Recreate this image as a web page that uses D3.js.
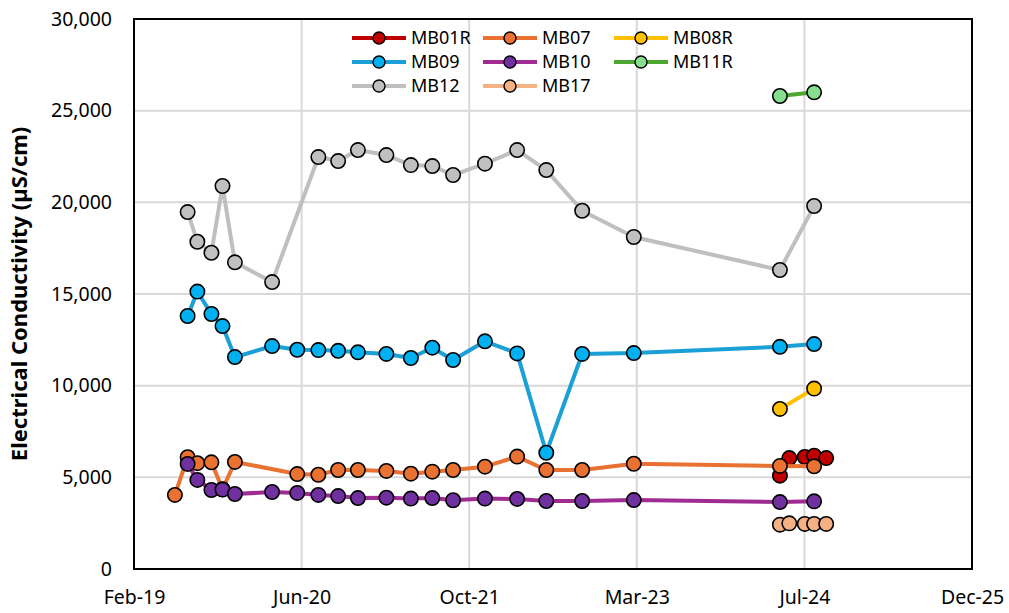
<!DOCTYPE html>
<html>
<head>
<meta charset="utf-8">
<script src="https://cdn.jsdelivr.net/npm/d3@7"></script>
<style>
  html, body { margin: 0; padding: 0; background: #fff; }
  svg { display: block; font-family: "Noto Sans", "Liberation Sans", sans-serif; }
</style>
</head>
<body>
<svg id="chart" width="1009" height="613"></svg>
<script>
// Electrical conductivity readings (µS/cm) per monitoring bore
const seriesNames = ["MB01R", "MB07", "MB08R", "MB09", "MB10", "MB11R", "MB12", "MB17"];

const mb01rDates = ["2024-05-12", "2024-06-09", "2024-07-25", "2024-08-22", "2024-09-27"];
const mb01rValues = [5090, 6050, 6110, 6180, 6050];

const mb07Dates = ["2019-06-03", "2019-07-11", "2019-08-09", "2019-09-20", "2019-10-23", "2019-11-29",
  "2020-06-02", "2020-08-04", "2020-10-02", "2020-11-30", "2021-02-23", "2021-05-07", "2021-07-10",
  "2021-09-10", "2021-12-14", "2022-03-20", "2022-06-15", "2022-09-30", "2023-03-03", "2024-05-12", "2024-08-22"];
const mb07Values = [4040, 6100, 5770, 5820, 4350, 5840, 5180, 5140, 5400, 5400, 5350, 5200, 5310,
  5400, 5580, 6130, 5400, 5400, 5740, 5620, 5600];

const mb08rDates = ["2024-05-12", "2024-08-22"];
const mb08rValues = [8730, 9840];

const mb09Dates = ["2019-07-11", "2019-08-09", "2019-09-20", "2019-10-23", "2019-11-29", "2020-03-19",
  "2020-06-02", "2020-08-04", "2020-10-02", "2020-11-30", "2021-02-23", "2021-05-07", "2021-07-10",
  "2021-09-10", "2021-12-14", "2022-03-20", "2022-06-15", "2022-09-30", "2023-03-03", "2024-05-12", "2024-08-22"];
const mb09Values = [13800, 15130, 13910, 13250, 11560, 12160, 11960, 11940, 11900, 11820, 11730, 11510, 12070,
  11400, 12420, 11760, 6340, 11730, 11780, 12120, 12270];

const mb10Dates = ["2019-07-11", "2019-08-09", "2019-09-20", "2019-10-23", "2019-11-29", "2020-03-19",
  "2020-06-02", "2020-08-04", "2020-10-02", "2020-11-30", "2021-02-23", "2021-05-07", "2021-07-10",
  "2021-09-10", "2021-12-14", "2022-03-20", "2022-06-15", "2022-09-30", "2023-03-03", "2024-05-12", "2024-08-22"];
const mb10Values = [5730, 4860, 4310, 4330, 4090, 4200, 4150, 4040, 3980, 3870, 3890, 3840, 3870,
  3750, 3840, 3820, 3710, 3710, 3760, 3650, 3690];

const mb11rDates = ["2024-05-12", "2024-08-22"];
const mb11rValues = [25800, 26000];

const mb12Dates = ["2019-07-11", "2019-08-09", "2019-09-20", "2019-10-23", "2019-11-29", "2020-03-19",
  "2020-08-04", "2020-10-02", "2020-11-30", "2021-02-23", "2021-05-07", "2021-07-10",
  "2021-09-10", "2021-12-14", "2022-03-20", "2022-06-15", "2022-09-30", "2023-03-03", "2024-05-12", "2024-08-22"];
const mb12Values = [19470, 17850, 17250, 20890, 16730, 15650, 22470, 22250, 22850, 22580, 22030, 21980,
  21490, 22110, 22850, 21760, 19540, 18110, 16310, 19800];

const mb17Dates = ["2024-05-12", "2024-06-09", "2024-07-25", "2024-08-22", "2024-09-27"];
const mb17Values = [2420, 2490, 2460, 2460, 2460];

// Axis settings
const xStart = "2019-02-01";
const xTickStepDays = 500;
const xTickCount = 6;
const yTicks = [0, 5000, 10000, 15000, 20000, 25000, 30000];
const yTitle = "Electrical Conductivity (µS/cm)";

// Series styling: line colour and marker fill
const lineColors = ["#C00000", "#E97132", "#FFC000", "#1AA0D6", "#A02B93", "#4EA72E", "#BFBFBF", "#F4B183"];
const markerFills = ["#C00000", "#E97132", "#FFC000", "#00B0F0", "#7030A0", "#86DF8E", "#C0C0C0", "#F4B183"];

const parse = d3.timeParse("%Y-%m-%d");
const seriesData = [
  [mb01rDates, mb01rValues], [mb07Dates, mb07Values], [mb08rDates, mb08rValues], [mb09Dates, mb09Values],
  [mb10Dates, mb10Values], [mb11rDates, mb11rValues], [mb12Dates, mb12Values], [mb17Dates, mb17Values]
].map(([ds, vs], i) => ({
  name: seriesNames[i],
  line: lineColors[i],
  fill: markerFills[i],
  points: ds.map((d, j) => ({ date: parse(d), value: vs[j] }))
}));

const svg = d3.select("#chart");
const plot = { left: 134, right: 972, top: 19, bottom: 569 };

const start = parse(xStart);
const xTickValues = d3.range(xTickCount).map(i => d3.timeDay.offset(start, i * xTickStepDays));
const x = d3.scaleTime()
  .domain([xTickValues[0], xTickValues[xTickValues.length - 1]])
  .range([plot.left, plot.right]);
const y = d3.scaleLinear().domain([0, 30000]).range([plot.bottom, plot.top]);

// Gridlines
const grid = svg.append("g");
grid.selectAll("line.h").data(yTicks.slice(1, -1)).join("line")
  .attr("x1", plot.left).attr("x2", plot.right)
  .attr("y1", d => y(d)).attr("y2", d => y(d))
  .attr("stroke", "#D9D9D9").attr("stroke-width", 2);
grid.selectAll("line.v").data(xTickValues.slice(1, -1)).join("line")
  .attr("x1", d => x(d)).attr("x2", d => x(d))
  .attr("y1", plot.top).attr("y2", plot.bottom)
  .attr("stroke", "#D9D9D9").attr("stroke-width", 2);

// Plot frame
svg.append("rect")
  .attr("x", plot.left).attr("y", plot.top)
  .attr("width", plot.right - plot.left).attr("height", plot.bottom - plot.top)
  .attr("fill", "none").attr("stroke", "#000").attr("stroke-width", 2);

// Axes
const yAxis = d3.axisLeft(y).tickValues(yTicks).tickFormat(d3.format(",")).tickSize(0).tickPadding(22);
svg.append("g").attr("transform", `translate(${plot.left},0)`).call(yAxis)
  .call(g => g.select(".domain").remove())
  .call(g => g.selectAll("text").attr("font-size", 19.5).attr("fill", "#000")
    .attr("font-family", "'Noto Sans', sans-serif"));

const xAxis = d3.axisBottom(x).tickValues(xTickValues).tickFormat(d3.timeFormat("%b-%y")).tickSize(0).tickPadding(21);
svg.append("g").attr("transform", `translate(0,${plot.bottom})`).call(xAxis)
  .call(g => g.select(".domain").remove())
  .call(g => g.selectAll("text").attr("font-size", 19.5).attr("fill", "#000")
    .attr("font-family", "'Noto Sans', sans-serif"));

// Y axis title
svg.append("text")
  .attr("transform", `translate(27,${(plot.top + plot.bottom) / 2}) rotate(-90)`)
  .attr("text-anchor", "middle")
  .attr("font-size", 22).attr("font-weight", "bold")
  .text(yTitle);

// Series lines and markers
const lineGen = d3.line().x(d => x(d.date)).y(d => y(d.value));
const seriesG = svg.append("g");
seriesData.forEach(s => {
  const g = seriesG.append("g");
  g.append("path").datum(s.points)
    .attr("d", lineGen).attr("fill", "none")
    .attr("stroke", s.line).attr("stroke-width", 4).attr("stroke-linejoin", "round");
  g.selectAll("circle").data(s.points).join("circle")
    .attr("cx", d => x(d.date)).attr("cy", d => y(d.value)).attr("r", 7.2)
    .attr("fill", s.fill).attr("stroke", "#000").attr("stroke-width", 1.6);
});

// Legend: three columns
const legend = svg.append("g");
const colX = [352, 483, 614];
const rowY = [38, 62, 86];
seriesData.forEach((s, i) => {
  const cx = colX[i % 3], cy = rowY[Math.floor(i / 3)];
  const item = legend.append("g").attr("transform", `translate(${cx},${cy})`);
  item.append("line").attr("x1", 0).attr("x2", 54).attr("y1", 0).attr("y2", 0)
    .attr("stroke", s.line).attr("stroke-width", 4);
  item.append("circle").attr("cx", 27).attr("cy", 0).attr("r", 6)
    .attr("fill", s.fill).attr("stroke", "#000").attr("stroke-width", 1.4);
  item.append("text").attr("x", 59).attr("y", 0).attr("dy", "0.36em")
    .attr("font-size", 18).text(s.name);
});
</script>
</body>
</html>
